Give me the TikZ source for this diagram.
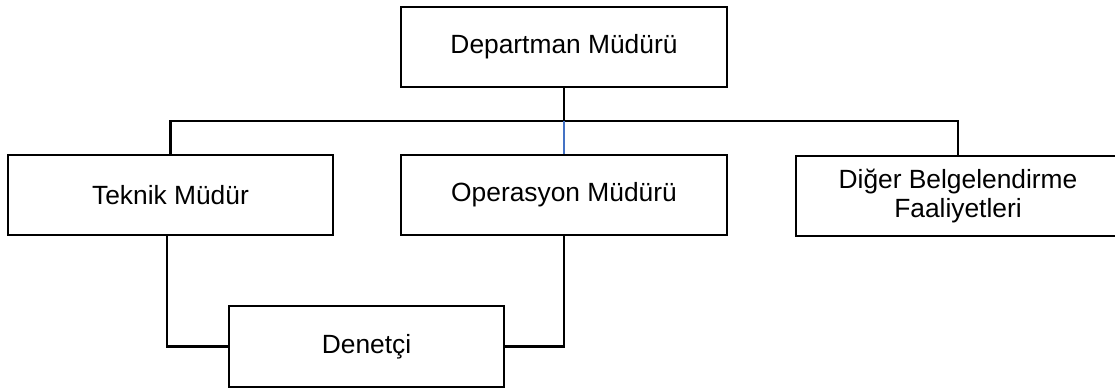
\documentclass[tikz,border=0pt]{standalone}
\usepackage{fontspec}
\setmainfont{Liberation Sans}
\usetikzlibrary{calc}
\definecolor{linkblue}{HTML}{4472C4}
\begin{document}
\begin{tikzpicture}[x=0.02cm, y=-0.02cm,
        orgbox/.style={draw, line width=1.6pt, align=center, inner sep=0pt,
            minimum height=1.6cm, font=\fontsize{15}{17}\selectfont},
        link/.style={line width=1.6pt}]
        \useasboundingbox (0,0) rectangle (1115,389);
        % boxes
        \node[orgbox, minimum width=6.52cm] (top) at (564,47) {Departman Müdürü};
        \node[orgbox, minimum width=6.5cm] (teknik) at (170.5,195) {Teknik Müdür};
        \node[orgbox, minimum width=6.52cm] (ops) at (564,195) {Operasyon Müdürü};
        \node[orgbox, minimum width=6.48cm] (diger) at (958,196) {Diğer Belgelendirme\\Faaliyetleri};
        \node[orgbox, minimum width=5.5cm, minimum height=1.62cm] (denetci) at (366.5,346.5) {Denetçi};
        % bus line
        \coordinate (bus) at (564,121);
        \draw[link] (top.south) -- (bus);
        \draw[link, line join=miter] (teknik.north) |- (bus) -| (diger.north);
        \draw[linkblue, line width=1.1pt] (bus) -- (ops.north);
        % lines to the auditor
        \draw[link] ([xshift=-0.07cm]teknik.south) |- (denetci.west);
        \draw[link] (ops.south) |- (denetci.east);
    \end{tikzpicture}
\end{document}
